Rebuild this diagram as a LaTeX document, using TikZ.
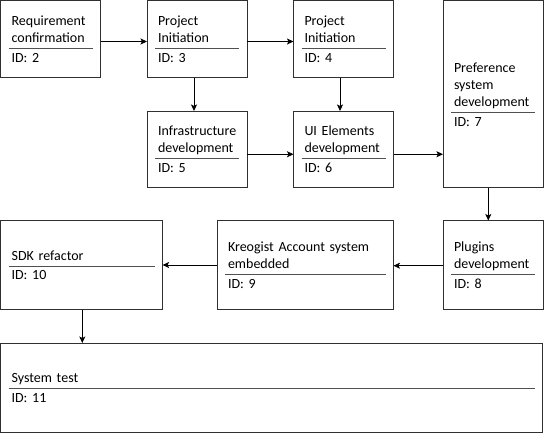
\documentclass[tikz,border=0pt]{standalone}
\usepackage{fontspec}
\setmainfont{Carlito}
\usetikzlibrary{arrows.meta,calc}
\definecolor{divgray}{HTML}{505050}
\definecolor{bordergray}{HTML}{303030}
\newcommand\mystrut{\rule[-3.5pt]{0pt}{17pt}}
\newcommand\cellcontent[2]{%
  \setlength\baselineskip{17pt}\setlength\lineskiplimit{-30pt}%
  {\leftskip=3pt #1\par}%
  \vskip2.1pt{\color{divgray}\hrule height 0.8pt}\vskip0pt
  {\leftskip=3pt \mystrut #2\par}}
\begin{document}
\begin{tikzpicture}[x=1pt,y=-1pt,
  taskbox/.style={draw=bordergray, line width=0.8pt, rectangle, anchor=north west,
    inner xsep=8pt, inner ysep=0pt, outer sep=0pt, align=left,
    font=\fontsize{14}{17}\selectfont, text=black},
  arr/.style={draw=black, line width=0.8pt, -{Stealth[length=6.5pt,width=6pt,inset=1.5pt]}}]
\useasboundingbox (0,0) rectangle (544,434);
\node[taskbox, minimum width=100pt, minimum height=77pt, text width=84pt] (n2) at (0.6,0.6)
  {\cellcontent{\mystrut Requirement\\\mystrut confirmation}{ID: 2}};
\node[taskbox, minimum width=100pt, minimum height=77pt, text width=84pt] (n3) at (147,0.6)
  {\cellcontent{\mystrut Project\\\mystrut Initiation}{ID: 3}};
\node[taskbox, minimum width=100pt, minimum height=77pt, text width=84pt] (n4) at (293.5,0.6)
  {\cellcontent{\mystrut Project\\\mystrut Initiation}{ID: 4}};
\node[taskbox, minimum width=100pt, minimum height=187pt, text width=84pt] (n7) at (443,0.6)
  {\cellcontent{\mystrut Preference\\\mystrut system\\\mystrut development}{ID: 7}};
\node[taskbox, minimum width=100pt, minimum height=76.5pt, text width=84pt] (n5) at (147,111)
  {\cellcontent{\mystrut Infrastructure\\\mystrut development}{ID: 5}};
\node[taskbox, minimum width=100pt, minimum height=76.5pt, text width=84pt] (n6) at (293.5,111)
  {\cellcontent{\mystrut UI Elements\\\mystrut development}{ID: 6}};
\node[taskbox, minimum width=100pt, minimum height=89pt, text width=84pt] (n8) at (443,220.5)
  {\cellcontent{\mystrut Plugins\\\mystrut development}{ID: 8}};
\node[taskbox, minimum width=176.5pt, minimum height=89pt, text width=160.5pt] (n9) at (217,220.5)
  {\cellcontent{\mystrut Kreogist Account system\\\mystrut embedded}{ID: 9}};
\node[taskbox, minimum width=162pt, minimum height=89pt, text width=146pt] (n10) at (0.6,220.5)
  {\cellcontent{\mystrut SDK refactor}{ID: 10}};
\node[taskbox, minimum width=542pt, minimum height=89pt, text width=526pt] (n11) at (0.6,343)
  {\cellcontent{\mystrut System test}{ID: 11}};
% connectors
\draw[arr] ([yshift=-2.4pt]n2.east) -- ([yshift=-2.4pt]n3.west);
\draw[arr] ([yshift=-2.4pt]n3.east) -- ([yshift=-2.4pt]n4.west);
\draw[arr] ([xshift=-3pt]n3.south) -- ([xshift=-3pt]n5.north);
\draw[arr] ([xshift=-3.5pt]n4.south) -- ([xshift=-3.5pt]n6.north);
\draw[arr] ([yshift=-5pt]n5.east) -- ([yshift=-5pt]n6.west);
\draw[arr] ([yshift=-5pt]n6.east) -- ([yshift=-5pt]n6.east -| n7.west);
\draw[arr] ([xshift=-4.7pt]n7.south) -- ([xshift=-4.7pt]n7.south |- n8.north);
\draw[arr] ([yshift=-0.7pt]n8.west) -- ([yshift=-0.7pt]n8.west -| n9.east);
\draw[arr] (n9.west) -- (n9.west -| n10.east);
\draw[arr] ([xshift=0.7pt]n10.south) -- ([xshift=0.7pt]n10.south |- n11.north);
\end{tikzpicture}
\end{document}
